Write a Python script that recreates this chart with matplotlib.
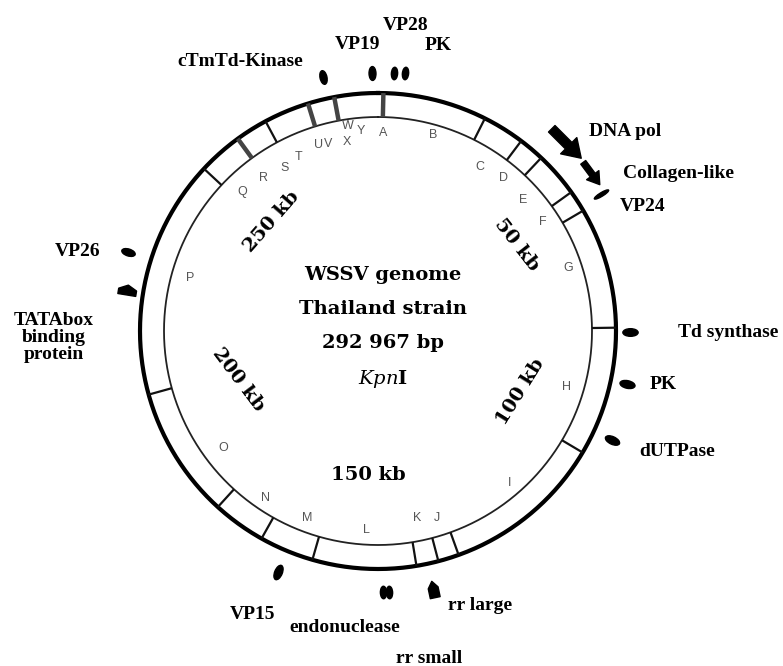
#!/usr/bin/env python3
"""
wssv_map.py - circular KpnI map of the WSSV genome (Thailand strain).

Draws the fragment ring, fragment letters, kb marks and the gene
markers with their labels on a polar axes, saved as out.png.
"""

import numpy as np
import matplotlib.pyplot as plt
from matplotlib.markers import MarkerStyle
from matplotlib.path import Path
from matplotlib.transforms import Affine2D

# ---- data (map angle in degrees, clockwise from the top) ----
fragment_names = list("ABCDEFGHIJKLMNOPQRSTUVWXY")
fragment_deg = [1.4, 15.7, 31.9, 39.2, 47.9, 56.5, 71.7, 106.5, 139.0,
                162.5, 168.2, 183.2, 200.8, 214.0, 233.0, 285.7, 315.8,
                323.1, 330.3, 335.3, 342.1, 345.1, 351.6, 350.6, 355.0]

edge_deg = [1.3, 26.7, 37.0, 43.3, 54.3, 59.6, 89.2, 120.7, 160.2, 165.3,
            170.7, 196.0, 209.3, 222.3, 254.5, 313.0, 323.9, 331.8, 342.9,
            349.4]
# edges where several tiny fragments sit together (drawn heavier)
edge_cluster = [1.3, 323.9, 342.9, 349.4]

kb_labels = ["50 kb", "100 kb", "150 kb", "200 kb", "250 kb"]
kb_deg = [58.3, 113.1, 184.0, 250.7, 315.8]

genes = ["cTmTd-Kinase", "VP19", "VP28", "PK", "DNA pol", "Collagen-like",
         "VP24", "Td synthase", "PK", "dUTPase", "rr large", "rr small",
         "endonuclease", "VP15", "TATAbox\nbinding\nprotein", "VP26"]
gene_deg = [347.8, 358.7, 3.6, 6.0, 45.0, 53.4, 58.5, 90.2, 102.0, 115.0,
            168.0, 177.5, 178.9, 202.5, 279.3, 287.5]

# ---- layout / style ----
R_OUT, R_IN = 238, 214
fragment_r = [198, 204, 193, 198, 195, 198, 200, 197, 201, 196, 191, 199,
              200, 202, 194, 195, 194, 191, 188, 191, 195, 194, 207, 192, 201]
kb_r = [163, 155, 144, 148, 152]
kb_rot = [-52, 58, 0, -53, 49]

# marker: kind, radius, size (pt)
gene_marker = [("dot", 260, 10), ("dot", 258, 10), ("dot", 259, 9),
               ("dot", 259, 9), ("arrow", 266, 30), ("arrow", 265, 20),
               ("dash", 262, 12), ("dot", 252, 11), ("dot", 255, 11),
               ("dot", 258, 11), ("pent_in", 264, 12), ("dot", 261, 9),
               ("dot", 261, 9), ("dot", 261, 11), ("house_cw", 254, 13),
               ("dot", 262, 10)]
# label centre: angle, radius
gene_label_pos = [(332.9, 303), (356.0, 287), (5.2, 307), (11.8, 292),
                  (51.1, 317), (62.4, 339), (64.8, 292), (90.2, 350),
                  (100.7, 290), (112.0, 323), (159.6, 293), (171.1, 331),
                  (186.4, 298), (203.8, 310), (268.9, 324), (284.9, 311)]

ARROW = Path([(-1, -0.22), (0.15, -0.22), (0.15, -0.55), (1, 0),
              (0.15, 0.55), (0.15, 0.22), (-1, 0.22), (-1, -0.22)],
             closed=True)
HOUSE = Path([(-0.5, -1), (0.1, -1), (0.6, 0), (0.1, 1), (-0.5, 1),
              (-0.5, -1)], closed=True)
PENT = Path([(-1, -0.6), (0.2, -0.6), (1, 0), (0.2, 0.6), (-1, 0.6),
             (-1, -0.6)], closed=True)


def make_marker(kind, deg):
    if kind == "dot":
        return MarkerStyle("o", transform=Affine2D().scale(1, 0.5).rotate_deg(90 - deg))
    if kind == "dash":
        return MarkerStyle("o", transform=Affine2D().scale(1, 0.22).rotate_deg(90 - deg))
    if kind == "arrow":
        return MarkerStyle(ARROW, transform=Affine2D().rotate_deg(-deg))
    if kind == "pent_in":
        return MarkerStyle(PENT, transform=Affine2D().rotate_deg(270 - deg))
    return MarkerStyle(HOUSE, transform=Affine2D().rotate_deg(-deg))


plt.rcParams["mathtext.fontset"] = "custom"
plt.rcParams["mathtext.it"] = "DejaVu Serif:italic"
plt.rcParams["mathtext.rm"] = "DejaVu Serif:bold"

fig = plt.figure(figsize=(7.83, 6.66), dpi=100)
cx, cy, rad = 378, 331, 300
ax = fig.add_axes([(cx - rad) / 783, (666 - cy - rad) / 666,
                   2 * rad / 783, 2 * rad / 666], projection="polar")
ax.set_theta_zero_location("N")
ax.set_theta_direction(-1)
ax.set_ylim(0, rad)
ax.set_axis_off()

# ring
theta = np.linspace(0, 2 * np.pi, 721)
ax.plot(theta, np.full_like(theta, R_OUT), color="black", lw=3.0)
ax.plot(theta, np.full_like(theta, R_IN), color="#222222", lw=1.3)

for d in edge_deg:
    t = np.radians(d)
    if d in edge_cluster:
        ax.plot([t, t], [R_IN, R_OUT], color="#444444", lw=3.2, solid_capstyle="butt")
    else:
        ax.plot([t, t], [R_IN, R_OUT], color="#111111", lw=1.6, solid_capstyle="butt")

# fragment letters
for name, d, r in zip(fragment_names, fragment_deg, fragment_r):
    ax.text(np.radians(d), r, name, ha="center", va="center", fontsize=9,
            family="Liberation Sans", color="#555555")

# kb marks
for lab, d, r, rot in zip(kb_labels, kb_deg, kb_r, kb_rot):
    ax.text(np.radians(d), r, lab, ha="center", va="center", rotation=rot,
            fontsize=14, family="DejaVu Serif", fontweight="bold",
            rotation_mode="anchor")

# gene markers and labels
for name, d, (kind, r, size), (ld, lr) in zip(genes, gene_deg, gene_marker,
                                              gene_label_pos):
    ax.plot(np.radians(d), r, marker=make_marker(kind, d), markersize=size,
            color="black", linestyle="none", clip_on=False)
    ax.text(np.radians(ld), lr, name, ha="center", va="center", fontsize=14,
            family="Liberation Serif", fontweight="bold", linespacing=1.0,
            clip_on=False)

# centre title
centre_lines = ["WSSV genome", "Thailand strain", "292 967 bp", r"$\mathit{Kpn}$I"]
centre_dy = [56, 22, -12, -48]
for line, dy in zip(centre_lines, centre_dy):
    ax.annotate(line, xy=(0, 0), xytext=(5, dy), textcoords="offset pixels",
                ha="center", va="center", fontsize=14, family="DejaVu Serif",
                fontweight="bold")

fig.savefig("out.png", dpi=100)
print("saved out.png")
